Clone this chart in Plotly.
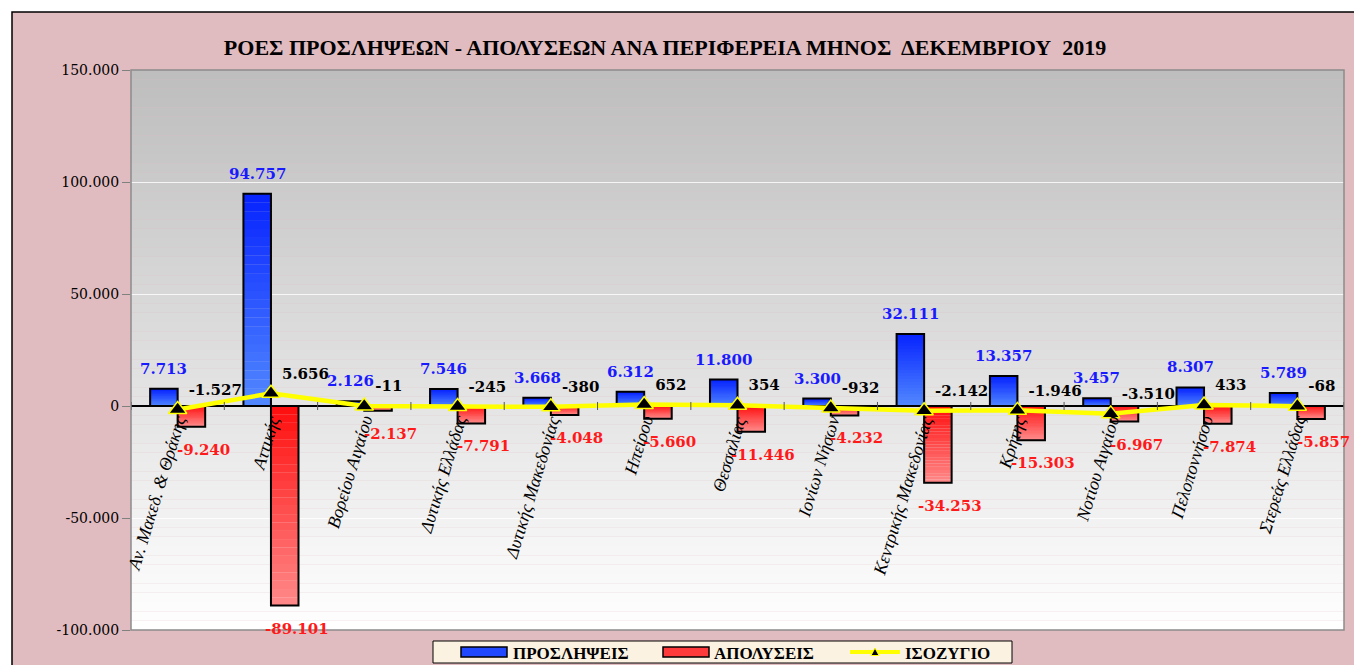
import plotly.graph_objects as go

regions = ["Αν. Μακεδ. & Θράκης", "Αττικής", "Βορείου Αιγαίου", "Δυτικής Ελλάδας",
           "Δυτικής Μακεδονίας", "Ηπείρου", "Θεσσαλίας", "Ιονίων Νήσων",
           "Κεντρικής Μακεδονίας", "Κρήτης", "Νοτίου Αιγαίου", "Πελοποννήσου",
           "Στερεάς Ελλάδας"]
hires = [7713, 94757, 2126, 7546, 3668, 6312, 11800, 3300, 32111, 13357, 3457, 8307, 5789]
layoffs = [-9240, -89101, -2137, -7791, -4048, -5660, -11446, -4232, -34253, -15303, -6967, -7874, -5857]
balance = [-1527, 5656, -11, -245, -380, 652, 354, -932, -2142, -1946, -3510, 433, -68]
y_ticks = [-100000, -50000, 0, 50000, 100000, 150000]

series_names = ["ΠΡΟΣΛΗΨΕΙΣ", "ΑΠΟΛΥΣΕΙΣ", "ΙΣΟΖΥΓΙΟ"]
title = "ΡΟΕΣ ΠΡΟΣΛΗΨΕΩΝ - ΑΠΟΛΥΣΕΩΝ ΑΝΑ ΠΕΡΙΦΕΡΕΙΑ ΜΗΝΟΣ  ΔΕΚΕΜΒΡΙΟΥ  2019"


def fmt(v):
    # greek style: dot as thousands separator
    return f"{v:,}".replace(",", ".")


# the page body has an 8px margin, so work in screen pixels minus that
OFF = 8
W, H = 1362 - OFF, 665 - OFF
L, T = 131 - OFF, 70 - OFF
R, B = W - (1344 - OFF), H - (630 - OFF)
pw, ph = W - L - R, H - T - B


def px_x(p):
    return (p - OFF - L) / pw


def px_y(p):
    return (H - B - (p - OFF)) / ph


def mix(c1, c2, t):
    return "rgb(%d,%d,%d)" % tuple(round(a + (b - a) * t) for a, b in zip(c1, c2))


BLUE_DARK, BLUE_LIGHT = (8, 36, 255), (80, 135, 255)
RED_DARK, RED_LIGHT = (255, 16, 16), (255, 135, 135)
BAR_W = 0.295
NSEG = 24
label_font = dict(family="DejaVu Serif", size=15, weight="bold")

fig = go.Figure()


def gradient_bars(values, name, dark, light, offset):
    for i in range(NSEG):
        t = i / (NSEG - 1)
        fig.add_trace(go.Bar(
            x=regions, y=[v / NSEG * 1.02 for v in values],
            base=[v * i / NSEG for v in values], offset=offset, width=BAR_W,
            marker=dict(color=mix(light, dark, t) if values[0] > 0 else mix(dark, light, t),
                        line=dict(width=0)),
            name=name, hoverinfo="skip"))
    fig.add_trace(go.Bar(x=regions, y=values, offset=offset, width=BAR_W, name=name,
                         marker=dict(color="rgba(0,0,0,0)", line=dict(color="black", width=2))))


gradient_bars(hires, series_names[0], BLUE_DARK, BLUE_LIGHT, -BAR_W)
gradient_bars(layoffs, series_names[1], RED_DARK, RED_LIGHT, 0)

fig.add_trace(go.Scatter(
    x=regions, y=balance, name=series_names[2], mode="lines+markers+text",
    line=dict(color="#ffff00", width=4.5),
    marker=dict(symbol="triangle-up", size=16, color="black",
                line=dict(color="#ffff00", width=1.5)),
    text=[fmt(v) for v in balance], textposition="top right",
    textfont=dict(label_font, color="black"),
    cliponaxis=False,
))

shapes = []
# pink page with black frame
shapes.append(dict(type="rect", xref="paper", yref="paper", layer="below",
                   x0=px_x(12), x1=px_x(1400), y0=px_y(720), y1=px_y(12),
                   fillcolor="#e0bbbf", line=dict(color="black", width=1.5)))
# gray-to-white gradient in plot area
n = 60
for i in range(n):
    t = i / (n - 1)
    g = int(190 + (255 - 190) * t)
    shapes.append(dict(type="rect", xref="x domain", yref="y domain", layer="below",
                       x0=0, x1=1, y0=1 - (i + 1) / n, y1=1 - i / n,
                       fillcolor=f"rgb({g},{g},{g})", line=dict(width=0)))
shapes.append(dict(type="rect", xref="x domain", yref="y domain",
                   x0=0, x1=1, y0=0, y1=1,
                   line=dict(color="#8c8c8c", width=1.5)))
# small ticks on the zero line between categories
for i in range(len(regions) + 1):
    shapes.append(dict(type="line", xref="x", yref="y", x0=i - 0.5, x1=i - 0.5,
                       y0=-1800, y1=1800, line=dict(color="#555555", width=1)))

annotations = []
cat_px = pw / len(regions)
for r, up, down in zip(regions, hires, layoffs):
    annotations.append(dict(x=r, y=0, text=r, showarrow=False,
                            textangle=-73, xanchor="right", yanchor="top",
                            xshift=15, yshift=-5,
                            font=dict(family="Liberation Serif", size=18,
                                      style="italic", color="black")))
    annotations.append(dict(x=r, y=up, text=fmt(up), showarrow=False,
                            xanchor="center", yanchor="bottom", yshift=9,
                            xshift=-BAR_W / 2 * cat_px,
                            font=dict(label_font, color="#1a1aff")))
    annotations.append(dict(x=r, y=down, text=fmt(down), showarrow=False,
                            xanchor="center", yanchor="top", yshift=-12,
                            xshift=BAR_W / 2 * cat_px + 12,
                            font=dict(label_font, color="#ff1a1a")))

# hand-drawn legend below the plot (plotly's own legend would squeeze the plot area)
pp = dict(xref="paper", yref="paper")
shapes.append(dict(type="rect", **pp, x0=px_x(433), x1=px_x(1012), y0=px_y(663), y1=px_y(641),
                   fillcolor="#fcf2e2", line=dict(color="black", width=1)))
leg_y = 652
for x0, c1, c2 in [(461, BLUE_DARK, BLUE_LIGHT), (663, RED_DARK, RED_LIGHT)]:
    shapes.append(dict(type="rect", **pp, x0=px_x(x0), x1=px_x(x0 + 46),
                       y0=px_y(leg_y + 5), y1=px_y(leg_y - 5),
                       fillcolor=mix(c1, c2, 0.35), line=dict(color="black", width=1.5)))
shapes.append(dict(type="line", **pp, x0=px_x(850), x1=px_x(900), y0=px_y(leg_y), y1=px_y(leg_y),
                   line=dict(color="#ffff00", width=4)))
tri = "M {:.5f} {:.5f} L {:.5f} {:.5f} L {:.5f} {:.5f} Z".format(
    px_x(871), px_y(leg_y + 3.5), px_x(879), px_y(leg_y + 3.5), px_x(875), px_y(leg_y - 4))
shapes.append(dict(type="path", **pp, path=tri, fillcolor="black",
                   line=dict(color="#ffff00", width=1)))
for name, x0 in zip(series_names, [511, 712, 903]):
    annotations.append(dict(**pp, x=px_x(x0), y=px_y(leg_y + 1), text=name, showarrow=False,
                            xanchor="left", yanchor="middle",
                            font=dict(family="Liberation Serif", size=17, color="black",
                                      weight="bold")))

fig.update_layout(
    width=W, height=H,
    margin=dict(l=L, r=R, t=T, b=B),
    paper_bgcolor="white", plot_bgcolor="rgba(0,0,0,0)",
    barmode="overlay", showlegend=False,
    title=dict(text=title, x=px_x(665), xref="paper", xanchor="center",
               y=1 - (47 - OFF) / H, yref="container", yanchor="middle",
               font=dict(family="Liberation Serif", size=22, color="black", weight="bold")),
    xaxis=dict(showticklabels=False, ticks="", showgrid=False, showline=False,
               zeroline=False, range=[-0.5, len(regions) - 0.5]),
    yaxis=dict(range=[-100000, 150000], tickvals=y_ticks,
               ticktext=[fmt(v) for v in y_ticks],
               ticks="outside", ticklen=8, tickcolor="#808080",
               tickfont=dict(family="DejaVu Serif", size=14, color="black"),
               showgrid=True, gridcolor="rgba(255,255,255,0.8)", gridwidth=1,
               zeroline=True, zerolinecolor="black", zerolinewidth=1.5,
               showline=False),
    shapes=shapes, annotations=annotations,
)

fig.write_html("out.html")
